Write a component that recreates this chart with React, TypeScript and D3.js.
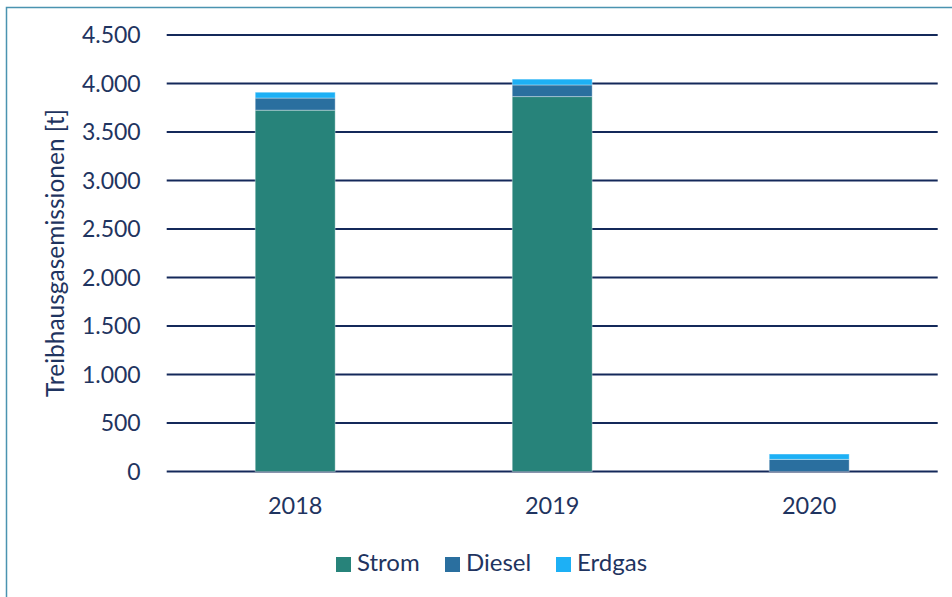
import { useRef, useEffect } from 'react';
import * as d3 from 'd3';

const YEARS = ['2018', '2019', '2020'];
const SERIES = ['Strom', 'Diesel', 'Erdgas'];
const STROM = [3725, 3865, 0];
const DIESEL = [125, 120, 125];
const ERDGAS = [60, 60, 55];
const Y_TICKS = [0, 500, 1000, 1500, 2000, 2500, 3000, 3500, 4000, 4500];

const COLORS = { Strom: '#27837a', Diesel: '#2a6f9f', Erdgas: '#1db0f5' };
const TEXT = '#1f3460';
const FONT = 'Lato, "Open Sans", sans-serif';

export default function App() {
  const svgRef = useRef<SVGSVGElement>(null);

  useEffect(() => {
    const width = 952;
    const height = 597;
    const margin = { top: 35, right: 14.3, bottom: 125.5, left: 166.7 };
    const W = width - margin.left - margin.right;
    const H = height - margin.top - margin.bottom;

    const svg = d3.select(svgRef.current);
    svg.selectAll('*').remove();
    svg.attr('width', width).attr('height', height);

    // frame
    svg.append('rect')
      .attr('x', 6.5).attr('y', 7.5).attr('width', 1000).attr('height', 1000)
      .attr('fill', 'none').attr('stroke', '#4a93b0').attr('stroke-width', 1.5);

    const g = svg.append('g').attr('transform', `translate(${margin.left},${margin.top})`);

    const x = d3.scaleBand().domain(YEARS).range([0, W]).paddingInner(0.689).paddingOuter(0.3445);
    const y = d3.scaleLinear().domain([0, 4500]).range([H, 0]);

    // grid
    g.selectAll('line.grid')
      .data(Y_TICKS)
      .enter().append('line')
      .attr('x1', 0).attr('x2', W)
      .attr('y1', d => y(d)).attr('y2', d => y(d))
      .attr('stroke', '#14295a').attr('stroke-width', 2);

    // y tick labels
    g.selectAll('text.ytick')
      .data(Y_TICKS)
      .enter().append('text')
      .attr('x', -26).attr('y', d => y(d))
      .attr('dy', '0.35em')
      .attr('text-anchor', 'end')
      .attr('fill', TEXT).attr('font-family', FONT).attr('font-size', 23)
      .text(d => d3.format(',')(d).replace(/,/g, '.'));

    // stacked bars
    const rows = YEARS.map((year, i) => ({ year, Strom: STROM[i], Diesel: DIESEL[i], Erdgas: ERDGAS[i] }));
    const stack = d3.stack<any>().keys(SERIES)(rows);

    stack.forEach(layer => {
      g.append('g').selectAll('rect')
        .data(layer)
        .enter().append('rect')
        .attr('x', d => x(d.data.year)!)
        .attr('width', x.bandwidth())
        .attr('y', d => y(d[1]))
        .attr('height', d => Math.max(0, y(d[0]) - y(d[1])))
        .attr('fill', COLORS[layer.key as keyof typeof COLORS])
        .attr('stroke', '#ffffff').attr('stroke-opacity', 0.35).attr('stroke-width', 1);
    });

    // x labels
    g.selectAll('text.xtick')
      .data(YEARS)
      .enter().append('text')
      .attr('x', d => x(d)! + x.bandwidth() / 2)
      .attr('y', H + 42)
      .attr('text-anchor', 'middle')
      .attr('fill', TEXT).attr('font-family', FONT).attr('font-size', 23.5)
      .text(d => d);

    // y title
    svg.append('text')
      .attr('transform', `translate(64,253) rotate(-90)`)
      .attr('text-anchor', 'middle')
      .attr('fill', TEXT).attr('font-family', FONT).attr('font-size', 24.5)
      .text('Treibhausgasemissionen [t]');

    // legend
    const legendX = [336, 445, 556];
    const lg = svg.append('g');
    SERIES.forEach((s, i) => {
      lg.append('rect')
        .attr('x', legendX[i]).attr('y', 557).attr('width', 15).attr('height', 15)
        .attr('fill', COLORS[s as keyof typeof COLORS]);
      lg.append('text')
        .attr('x', legendX[i] + 21).attr('y', 570.5)
        .attr('fill', TEXT).attr('font-family', FONT).attr('font-size', 24)
        .text(s);
    });
  }, []);

  return <svg ref={svgRef} style={{ position: 'absolute', left: 0, top: 0, background: '#ffffff' }} />;
}
